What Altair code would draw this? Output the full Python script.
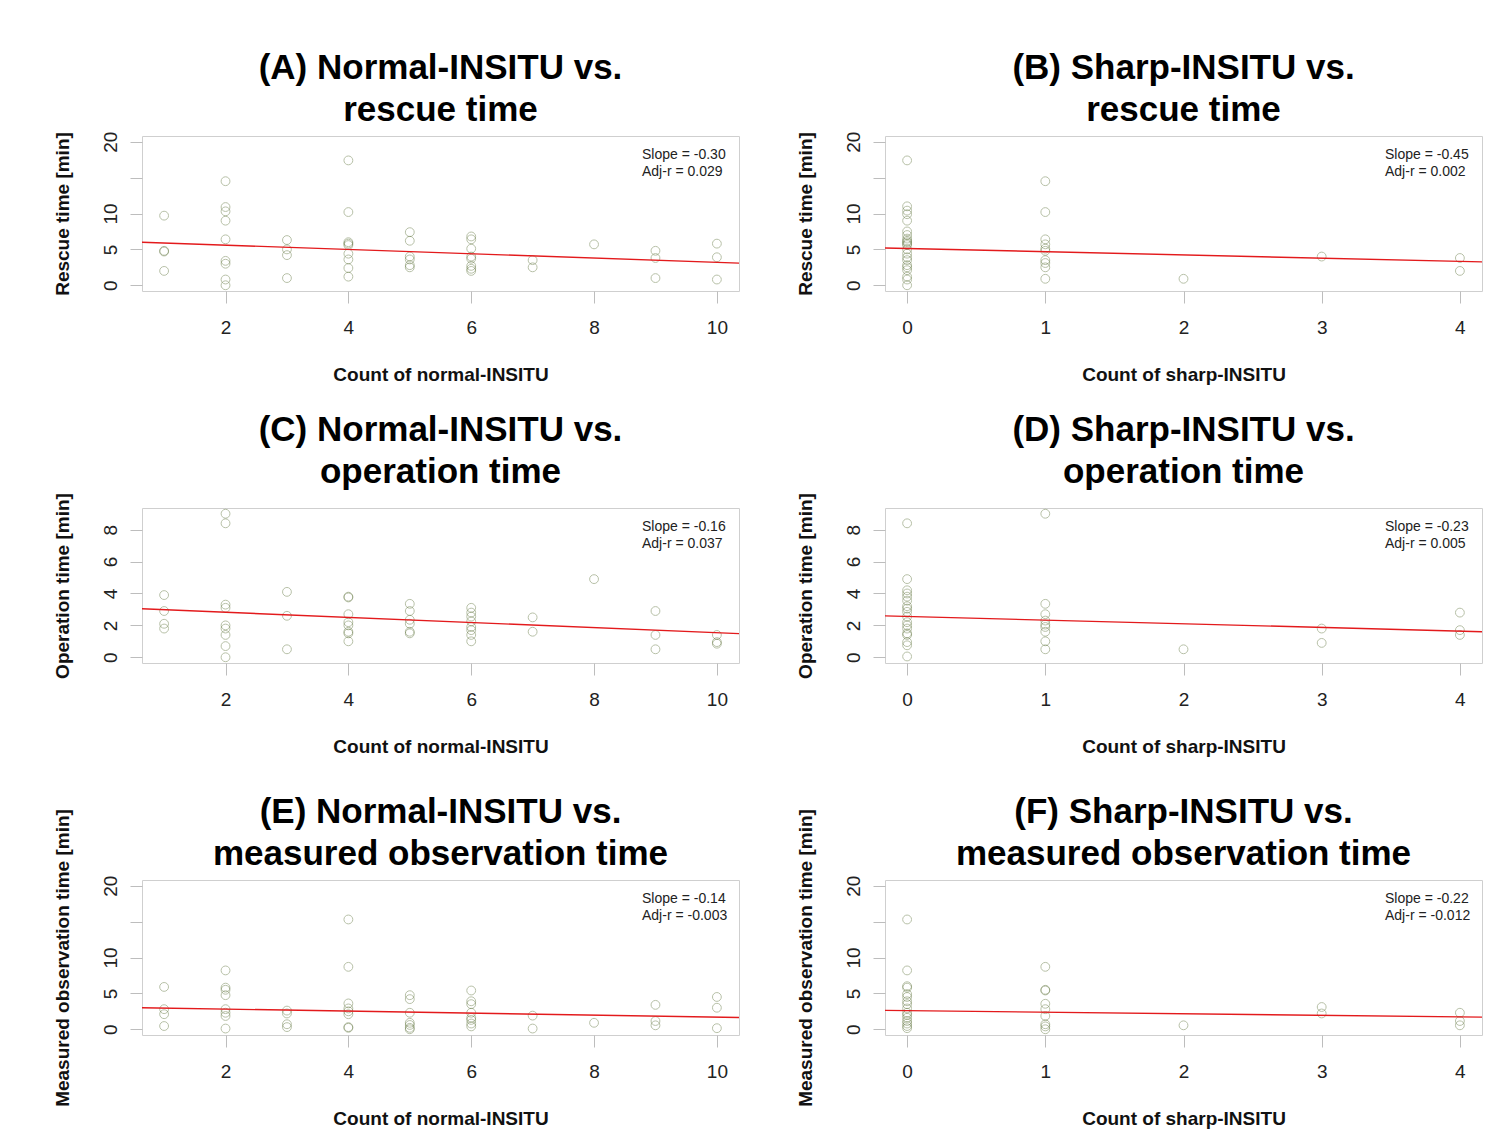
import altair as alt
import pandas as pd

# ---------------- data ----------------
# Panel A: count of normal-INSITU vs rescue time
A_x = [1]*4 + [2]*9 + [3]*4 + [4]*9 + [5]*6 + [6]*8 + [7]*2 + [8] + [9]*3 + [10]*3
A_y = [9.7, 4.8, 4.7, 2.0,
       14.5, 10.9, 10.3, 9.0, 6.4, 3.4, 3.0, 0.8, 0.0,
       6.3, 5.0, 4.2, 1.0,
       17.4, 10.2, 6.0, 5.8, 5.6, 4.4, 3.6, 2.4, 1.2,
       7.4, 6.2, 4.0, 3.6, 2.8, 2.5,
       6.8, 6.4, 5.1, 4.0, 3.7, 2.7, 2.3, 2.0,
       3.5, 2.5,
       5.7,
       4.8, 3.8, 1.0,
       5.8, 3.9, 0.8]

# Panel B: count of sharp-INSITU vs rescue time
B_x = [0]*22 + [1]*10 + [2] + [3] + [4]*2
B_y = [17.4, 11.0, 10.4, 9.9, 9.0, 7.5, 7.0, 6.5, 6.2, 5.8, 5.6, 5.0, 4.4, 3.9, 3.5, 2.8, 2.5, 2.1, 1.2, 0.8, 0.0, 6.0,
       14.5, 10.2, 6.4, 5.7, 5.1, 4.8, 3.5, 3.1, 2.5, 0.9,
       0.9,
       4.0,
       3.8, 2.0]

# Panel C: count of normal-INSITU vs operation time
C_x = [1]*4 + [2]*9 + [3]*3 + [4]*8 + [5]*6 + [6]*8 + [7]*2 + [8] + [9]*3 + [10]*3
C_y = [3.9, 2.9, 2.1, 1.8,
       9.0, 8.4, 3.3, 3.1, 2.0, 1.8, 1.4, 0.7, 0.0,
       4.1, 2.6, 0.5,
       3.8, 3.75, 2.7, 2.2, 2.0, 1.6, 1.5, 1.0,
       3.35, 2.9, 2.35, 2.1, 1.6, 1.5,
       3.1, 2.8, 2.55, 2.25, 1.9, 1.7, 1.4, 1.0,
       2.5, 1.6,
       4.9,
       2.9, 1.4, 0.5,
       1.4, 0.95, 0.85]

# Panel D: count of sharp-INSITU vs operation time
D_x = [0]*18 + [1]*9 + [2] + [3]*2 + [4]*3
D_y = [8.4, 4.9, 4.2, 4.0, 3.8, 3.55, 3.2, 3.05, 2.85, 2.55, 2.2, 2.0, 1.8, 1.5, 1.4, 0.95, 0.75, 0.05,
       9.0, 3.35, 2.7, 2.3, 2.05, 1.9, 1.6, 1.0, 0.5,
       0.5,
       1.8, 0.9,
       2.8, 1.7, 1.4]

# Panel E: count of normal-INSITU vs measured observation time
E_x = [1]*4 + [2]*8 + [3]*4 + [4]*8 + [5]*7 + [6]*8 + [7]*2 + [8] + [9]*3 + [10]*3
E_y = [5.9, 2.8, 2.1, 0.45,
       8.2, 5.8, 5.5, 4.75, 2.8, 2.3, 1.85, 0.1,
       2.6, 2.2, 0.7, 0.3,
       15.3, 8.7, 3.6, 2.9, 2.5, 2.1, 0.3, 0.2,
       4.75, 4.2, 2.3, 0.9, 0.6, 0.2, 0.0,
       5.4, 3.9, 3.5, 2.3, 1.6, 1.3, 0.8, 0.4,
       1.9, 0.1,
       0.9,
       3.4, 1.15, 0.55,
       4.5, 3.0, 0.15]

# Panel F: count of sharp-INSITU vs measured observation time
F_x = [0]*16 + [1]*9 + [2] + [3]*2 + [4]*3
F_y = [15.3, 8.2, 6.0, 5.8, 4.9, 4.5, 3.9, 3.5, 2.9, 2.3, 2.0, 1.6, 1.15, 0.8, 0.45, 0.15,
       8.7, 5.5, 5.4, 3.55, 2.8, 1.85, 0.7, 0.4, 0.0,
       0.55,
       3.1, 2.2,
       2.3, 1.15, 0.55]

titles = [["(A) Normal-INSITU vs.", "rescue time"],
          ["(B) Sharp-INSITU vs.", "rescue time"],
          ["(C) Normal-INSITU vs.", "operation time"],
          ["(D) Sharp-INSITU vs.", "operation time"],
          ["(E) Normal-INSITU vs.", "measured observation time"],
          ["(F) Sharp-INSITU vs.", "measured observation time"]]
x_titles = ["Count of normal-INSITU", "Count of sharp-INSITU"]
y_titles = ["Rescue time [min]", "Operation time [min]", "Measured observation time [min]"]
slopes = [-0.30, -0.45, -0.16, -0.23, -0.14, -0.22]
intercepts = [6.19, 5.13, 3.14, 2.56, 3.09, 2.60]
slope_labels = ["Slope = -0.30", "Slope = -0.45", "Slope = -0.16", "Slope = -0.23", "Slope = -0.14", "Slope = -0.22"]
adjr_labels = ["Adj-r = 0.029", "Adj-r = 0.002", "Adj-r = 0.037", "Adj-r = 0.005", "Adj-r = -0.003", "Adj-r = -0.012"]
normal_ticks = [2, 4, 6, 8, 10]
sharp_ticks = [0, 1, 2, 3, 4]
time_ticks_20 = [0, 5, 10, 15, 20]
time_ticks_8 = [0, 2, 4, 6, 8]

# ---------------- styling ----------------
W, H = 597, 155
FONT = "Liberation Sans"
POINT_COLOR = "#556b2f"
LINE_COLOR = "#e31a1c"


def panel(i, xs, ys, xtitle, ytitle, xdomain, xticks, ydomain, yticks, title_offset=3):
    df = pd.DataFrame({"x": xs, "y": ys})
    x0, x1 = xdomain
    line_df = pd.DataFrame({"x": [x0, x1],
                            "y": [intercepts[i] + slopes[i] * x0, intercepts[i] + slopes[i] * x1]})
    ann_df = pd.DataFrame({"t": [slope_labels[i] + "\n" + adjr_labels[i]]})

    xscale = alt.Scale(domain=list(xdomain), nice=False, zero=False)
    yscale = alt.Scale(domain=list(ydomain), nice=False, zero=False)
    xaxis = alt.Axis(values=xticks, title=xtitle, labelPadding=15, titlePadding=28,
                     labelFlush=False, labelOverlap=False, format="d")
    yaxis = alt.Axis(values=yticks, title=ytitle, labelAngle=-90, labelAlign="center",
                     labelBaseline="bottom", labelPadding=10, titlePadding=29,
                     labelExpr="datum.value == 15 ? '' : datum.label", labelFlush=False,
                     labelOverlap=False, format="d")

    pts = alt.Chart(df).mark_point(shape="circle", filled=False, size=78,
                                   strokeWidth=1, color=POINT_COLOR, opacity=0.42).encode(
        x=alt.X("x:Q", scale=xscale, axis=xaxis),
        y=alt.Y("y:Q", scale=yscale, axis=yaxis),
    )
    ln = alt.Chart(line_df).mark_line(color=LINE_COLOR, strokeWidth=1.4, clip=True).encode(
        x=alt.X("x:Q", scale=xscale, axis=xaxis),
        y=alt.Y("y:Q", scale=yscale, axis=yaxis),
    )
    txt = alt.Chart(ann_df).mark_text(align="left", baseline="top", fontSize=14, font=FONT,
                                      lineBreak="\n", lineHeight=17, color="#222").encode(
        x=alt.value(W - 97), y=alt.value(12), text="t:N"
    )
    return alt.layer(pts, ln, txt).properties(
        width=W, height=H,
        title=alt.TitleParams(text=titles[i], fontSize=35, font=FONT, fontWeight="bold",
                              lineHeight=42, anchor="middle", frame="group", offset=title_offset,
                              color="#000")
    )


normal_dom = (0.64, 10.36)
sharp_dom = (-0.16, 4.16)
big_dom = (-0.8, 20.8)
small_dom = (-0.36, 9.36)

pA = panel(0, A_x, A_y, x_titles[0], y_titles[0], normal_dom, normal_ticks, big_dom, time_ticks_20)
pB = panel(1, B_x, B_y, x_titles[1], y_titles[0], sharp_dom, sharp_ticks, big_dom, time_ticks_20)
pC = panel(2, C_x, C_y, x_titles[0], y_titles[1], normal_dom, normal_ticks, small_dom, time_ticks_8)
pD = panel(3, D_x, D_y, x_titles[1], y_titles[1], sharp_dom, sharp_ticks, small_dom, time_ticks_8)
# the long y-axis title reaches above the plot, so pull these titles back down
pE = panel(4, E_x, E_y, x_titles[0], y_titles[2], normal_dom, normal_ticks, big_dom, time_ticks_20,
           title_offset=-63)
pF = panel(5, F_x, F_y, x_titles[1], y_titles[2], sharp_dom, sharp_ticks, big_dom, time_ticks_20,
           title_offset=-63)

rows = [alt.hconcat(pA, pB, spacing=146, bounds="flush"),
        alt.hconcat(pC, pD, spacing=146, bounds="flush"),
        alt.hconcat(pE, pF, spacing=146, bounds="flush")]

# with flush bounds the nested rows count as zero height, so spacing is the row pitch
chart = alt.vconcat(*rows, spacing=372, bounds="flush").properties(
    padding={"left": 52, "top": 50, "right": 2, "bottom": 2},
    background="white",
).configure_view(
    stroke="#cfcfcf", strokeWidth=1
).configure_axis(
    grid=False, domain=False, tickColor="#bdbdbd", tickSize=12, tickWidth=1,
    labelFont=FONT, titleFont=FONT, labelFontSize=19, titleFontSize=19,
    titleFontWeight="bold", labelColor="#222", titleColor="#111",
    labelOverlap=False
)

chart.save("out.html", embed_options={"renderer": "svg", "actions": False})
